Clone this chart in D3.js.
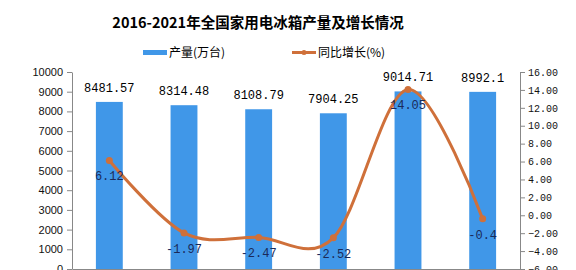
<!DOCTYPE html>
<html>
<head>
<meta charset="utf-8">
<script src="https://cdn.jsdelivr.net/npm/d3@7"></script>
<style>
  body { margin: 0; background: #fff; }
  svg { display: block; }
</style>
</head>
<body>
<svg width="576" height="270"></svg>
<script>
// chart data
var years = ['2016年', '2017年', '2018年', '2019年', '2020年', '2021年'];
var output = [8481.57, 8314.48, 8108.79, 7904.25, 9014.71, 8992.1];
var outputLabels = ['8481.57', '8314.48', '8108.79', '7904.25', '9014.71', '8992.1'];
var growth = [6.12, -1.97, -2.47, -2.52, 14.05, -0.4];
var leftTicks = [0, 1000, 2000, 3000, 4000, 5000, 6000, 7000, 8000, 9000, 10000];
var rightTicks = [-6, -4, -2, 0, 2, 4, 6, 8, 10, 12, 14, 16];

var svg = d3.select('svg'),
  margin = { top: 72, right: 56, bottom: 1, left: 72 },
  width = +svg.attr('width') - margin.left - margin.right,
  height = +svg.attr('height') - margin.top - margin.bottom,
  g = svg.append('g').attr('transform', 'translate(' + margin.left + ',' + margin.top + ')');

var barColor = '#4097e8';
var lineColor = '#cf703a';

// title
svg.append('text')
  .attr('x', 258)
  .attr('y', 28)
  .attr('text-anchor', 'middle')
  .style('font-family', '"Noto Sans CJK SC", sans-serif')
  .style('font-weight', 'bold')
  .style('font-size', '14.5px')
  .text('2016-2021年全国家用电冰箱产量及增长情况');

// legend
var legend = svg.append('g').style('font-family', '"Noto Sans CJK SC", sans-serif').style('font-size', '12px');
legend.append('rect').attr('x', 143).attr('y', 50).attr('width', 24).attr('height', 5).attr('fill', barColor);
legend.append('text').attr('x', 169).attr('y', 57).text('产量(万台)');
legend.append('line').attr('x1', 292).attr('x2', 316).attr('y1', 52.5).attr('y2', 52.5)
  .attr('stroke', lineColor).attr('stroke-width', 3);
legend.append('circle').attr('cx', 304).attr('cy', 52.5).attr('r', 2.5).attr('fill', lineColor);
legend.append('text').attr('x', 318).attr('y', 57).text('同比增长(%)');

var x = d3.scaleBand().domain(years).range([0, width]).paddingInner(0.64).paddingOuter(0.32);
var xc = function(d) { return x(d) + x.bandwidth() / 2; };
var y = d3.scaleLinear().domain([0, 10000]).range([height, 0]);
var y2 = d3.scaleLinear().domain([-6, 16]).range([height, 0]);

// left axis
var ay = g.append('g')
  .call(d3.axisLeft(y).tickValues(leftTicks).tickFormat(d3.format('d')).tickSize(5).tickSizeOuter(0).tickPadding(4));
ay.select('.domain').attr('stroke', '#888');
ay.selectAll('.tick line').attr('stroke', '#888');
ay.selectAll('text').style('font-family', '"Liberation Sans", Arial, sans-serif').style('font-size', '11px').attr('fill', '#111');

// right axis
var ay2 = g.append('g')
  .attr('transform', 'translate(' + width + ',0)')
  .call(d3.axisRight(y2).tickValues(rightTicks).tickFormat(d3.format('.2f')).tickSize(5).tickSizeOuter(0).tickPadding(3));
ay2.select('.domain').attr('stroke', '#888');
ay2.selectAll('.tick line').attr('stroke', '#888');
ay2.selectAll('text').style('font-family', '"Liberation Mono", monospace').style('font-size', '10px').attr('fill', '#111');

// x axis: the category labels lie below the crop in the reference, so only the line and ticks show
var ax = g.append('g')
  .attr('transform', 'translate(0,' + height + ')')
  .call(d3.axisBottom(x).tickSize(4).tickSizeOuter(0));
ax.select('.domain').attr('stroke', '#888');
ax.selectAll('.tick line').attr('stroke', '#888');
ax.selectAll('.tick text').remove();

// bars
g.selectAll('.bar')
  .data(output)
  .enter().append('rect')
  .attr('class', 'bar')
  .attr('x', function(d, i) { return x(years[i]); })
  .attr('width', x.bandwidth())
  .attr('y', function(d) { return y(d); })
  .attr('height', function(d) { return height - y(d); })
  .attr('fill', barColor);

// bar labels
g.selectAll('.blabel')
  .data(output)
  .enter().append('text')
  .attr('x', function(d, i) { return xc(years[i]); })
  .attr('y', function(d) { return y(d) - 10; })
  .attr('text-anchor', 'middle')
  .style('font-family', '"Liberation Mono", monospace')
  .style('font-size', '12px')
  .attr('fill', '#000')
  .text(function(d, i) { return outputLabels[i]; });

// growth line
var line = d3.line()
  .x(function(d, i) { return xc(years[i]); })
  .y(function(d) { return y2(d); })
  .curve(d3.curveCardinal.tension(0));

g.append('path')
  .datum(growth)
  .attr('fill', 'none')
  .attr('stroke', lineColor)
  .attr('stroke-width', 3)
  .attr('stroke-linejoin', 'round')
  .attr('stroke-linecap', 'round')
  .attr('d', line);

g.selectAll('.dot')
  .data(growth)
  .enter().append('circle')
  .attr('r', 3.5)
  .attr('cx', function(d, i) { return xc(years[i]); })
  .attr('cy', function(d) { return y2(d); })
  .attr('fill', lineColor);

// growth labels
g.selectAll('.glabel')
  .data(growth)
  .enter().append('text')
  .attr('x', function(d, i) { return xc(years[i]); })
  .attr('y', function(d) { return y2(d) + 20; })
  .attr('text-anchor', 'middle')
  .style('font-family', '"Liberation Mono", monospace')
  .style('font-size', '12px')
  .attr('fill', '#1a2a5a')
  .text(function(d) { return d; });
</script>
</body>
</html>
